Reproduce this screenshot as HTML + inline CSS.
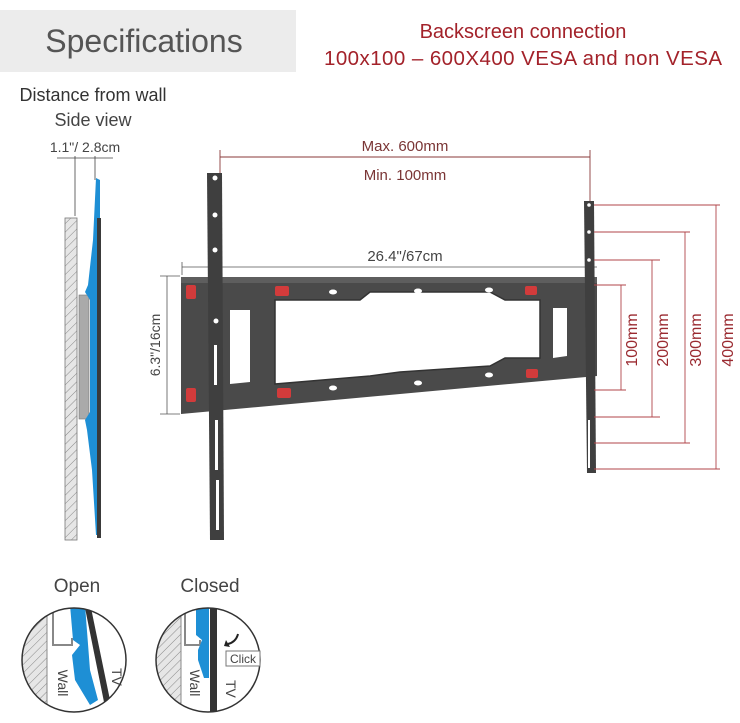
<!DOCTYPE html>
<html><head><meta charset="utf-8"><style>
html,body{margin:0;padding:0;background:#fff;}
svg{display:block;font-family:"Liberation Sans","DejaVu Sans",sans-serif;}
</style></head><body>
<svg width="740" height="723" viewBox="0 0 740 723" xmlns="http://www.w3.org/2000/svg">
<defs>
<pattern id="hatch" width="6" height="6" patternUnits="userSpaceOnUse" patternTransform="rotate(-45)">
<rect width="6" height="6" fill="#e6e6e6"/><line x1="0" y1="0" x2="6" y2="0" stroke="#888" stroke-width="1"/>
</pattern>
<clipPath id="c1"><circle cx="74" cy="660" r="52"/></clipPath>
<clipPath id="c2"><circle cx="208" cy="660" r="52"/></clipPath>
</defs>
<rect x="0" y="10" width="296" height="62" fill="#ececec"/>
<text x="144" y="52" font-size="32" fill="#555" text-anchor="middle">Specifications</text>
<text x="523" y="38" font-size="20" fill="#a3222a" text-anchor="middle">Backscreen connection</text>
<text x="523" y="65" font-size="20.5" fill="#a3222a" text-anchor="middle" textLength="398">100x100 – 600X400 VESA and non VESA</text>

<text x="93" y="101" font-size="18" fill="#333" text-anchor="middle">Distance from wall</text>
<text x="93" y="126" font-size="18" fill="#444" text-anchor="middle">Side view</text>
<text x="85" y="152" font-size="14" fill="#444" text-anchor="middle">1.1"/ 2.8cm</text>
<g stroke="#444" stroke-width="0.8"><line x1="57" y1="158" x2="113" y2="158"/><line x1="75" y1="156" x2="75" y2="216"/><line x1="95" y1="156" x2="95" y2="180"/></g>
<rect x="65" y="218" width="12" height="322" fill="url(#hatch)" stroke="#777" stroke-width="0.8"/>
<rect x="79" y="295" width="10" height="124" fill="#aaa" stroke="#777" stroke-width="0.6"/>
<path d="M96,178 L100,180 L100,535 L96,535 L92,470 L87,430 L85,420 L90,412 L90,300 L85,292 L88,285 L93,240 Z" fill="#1e8fd5"/>
<rect x="97" y="218" width="4" height="320" fill="#3a3a3a"/>

<g stroke="#8a3a3a" stroke-width="0.9">
<line x1="220" y1="157" x2="590" y2="157"/><line x1="220" y1="150" x2="220" y2="178"/><line x1="590" y1="150" x2="590" y2="202"/>
</g>
<text x="405" y="151" font-size="15" fill="#7a3535" text-anchor="middle">Max. 600mm</text>
<text x="405" y="180" font-size="15" fill="#7a3535" text-anchor="middle">Min. 100mm</text>

<text x="405" y="261" font-size="15" fill="#444" text-anchor="middle">26.4"/67cm</text>
<line x1="182" y1="267" x2="597" y2="267" stroke="#555" stroke-width="0.8"/>
<line x1="182" y1="262" x2="182" y2="275" stroke="#555" stroke-width="0.8"/>
<line x1="167" y1="276" x2="167" y2="414" stroke="#555" stroke-width="0.8"/>
<line x1="160" y1="276" x2="180" y2="276" stroke="#555" stroke-width="0.8"/>
<line x1="160" y1="414" x2="180" y2="414" stroke="#555" stroke-width="0.8"/>
<text transform="translate(160,345) rotate(-90)" font-size="14" fill="#444" text-anchor="middle">6.3"/16cm</text>

<path d="M181,277 L597,277 L597,376 L181,414 Z" fill="#4a4a4a"/>
<path d="M181,277 L597,277 L597,283 L181,283 Z" fill="#5e5e5e"/>
<path d="M275,300 L360,300 L370,292 L490,292 L505,300 L540,300 L540,358 L505,358 L490,366 L400,372 L370,376 L275,384 Z" fill="#fff" stroke="#333" stroke-width="1.5"/>
<path d="M230,310 L250,310 L250,382 L230,384 Z" fill="#fff"/>
<path d="M553,308 L567,308 L567,356 L553,358 Z" fill="#fff"/>
<g fill="#d23b3b"><rect x="275" y="286" width="14" height="10" rx="2"/><rect x="525" y="286" width="12" height="9" rx="2"/><rect x="277" y="388" width="14" height="10" rx="2"/><rect x="526" y="369" width="12" height="9" rx="2"/><rect x="186" y="285" width="10" height="14" rx="2"/><rect x="186" y="388" width="10" height="14" rx="2"/></g>
<g fill="#fff"><ellipse cx="333" cy="292" rx="4" ry="2.5"/><ellipse cx="418" cy="291" rx="4" ry="2.5"/><ellipse cx="489" cy="290" rx="4" ry="2.5"/><ellipse cx="333" cy="388" rx="4" ry="2.5"/><ellipse cx="418" cy="383" rx="4" ry="2.5"/><ellipse cx="489" cy="375" rx="4" ry="2.5"/></g>
<path d="M207,173 L222,173 L224,540 L210,540 Z" fill="#3f3f3f"/>
<g fill="#fff"><circle cx="215" cy="178" r="2.5"/><circle cx="215" cy="215" r="2.5"/><circle cx="215" cy="250" r="2.5"/><circle cx="216" cy="321" r="2.5"/><rect x="214" y="345" width="3" height="40"/><rect x="215" y="420" width="3" height="50"/><rect x="216" y="480" width="3" height="50"/></g>
<path d="M584,201 L594,201 L596,473 L587,473 Z" fill="#3f3f3f"/>
<g fill="#fff"><circle cx="589" cy="205" r="1.8"/><circle cx="589" cy="232" r="1.8"/><circle cx="589" cy="260" r="1.8"/><rect x="588" y="420" width="2" height="48"/></g>

<g stroke="#b0454a" stroke-width="0.9" fill="none">
<line x1="594" y1="205" x2="720" y2="205"/><line x1="716" y1="205" x2="716" y2="469"/><line x1="594" y1="469" x2="720" y2="469"/>
<line x1="594" y1="232" x2="690" y2="232"/><line x1="685" y1="232" x2="685" y2="443"/><line x1="594" y1="443" x2="690" y2="443"/>
<line x1="594" y1="260" x2="660" y2="260"/><line x1="652" y1="260" x2="652" y2="417"/><line x1="594" y1="417" x2="660" y2="417"/>
<line x1="594" y1="285" x2="626" y2="285"/><line x1="621" y1="285" x2="621" y2="390"/><line x1="594" y1="390" x2="626" y2="390"/>
</g>
<g font-size="16" fill="#9a2a30" text-anchor="middle">
<text transform="translate(637,340) rotate(-90)">100mm</text>
<text transform="translate(668,340) rotate(-90)">200mm</text>
<text transform="translate(701,340) rotate(-90)">300mm</text>
<text transform="translate(733,340) rotate(-90)">400mm</text>
</g>

<text x="77" y="592" font-size="19" fill="#444" text-anchor="middle">Open</text>
<text x="210" y="592" font-size="19" fill="#444" text-anchor="middle">Closed</text>
<g clip-path="url(#c1)">
<rect x="20" y="600" width="27" height="130" fill="url(#hatch)" stroke="#888"/>
<path d="M53,612 L53,645 L72,645 L72,638" fill="none" stroke="#888" stroke-width="2"/>
<path d="M70,605 L85,605 L90,670 L98,700 L90,705 L75,680 L72,655 L80,645 L73,640 Z" fill="#1e8fd5"/>
<path d="M84,603 L90,603 L110,700 L104,702 Z" fill="#333"/>
</g>
<circle cx="74" cy="660" r="52" fill="none" stroke="#333" stroke-width="1.5"/>
<text transform="translate(58,683) rotate(90)" font-size="14" fill="#444" text-anchor="middle">Wall</text>
<text transform="translate(112,668) rotate(90)" font-size="14" fill="#444">TV</text>
<g clip-path="url(#c2)">
<rect x="154" y="600" width="27" height="130" fill="url(#hatch)" stroke="#888"/>
<path d="M185,612 L185,645 L200,645 L200,640" fill="none" stroke="#888" stroke-width="2"/>
<path d="M196,603 L209,603 L209,678 L204,678 L198,660 L198,650 L202,640 L196,635 Z" fill="#1e8fd5"/>
<rect x="210" y="603" width="7" height="110" fill="#333"/>
</g>
<circle cx="208" cy="660" r="52" fill="none" stroke="#333" stroke-width="1.5"/>
<path d="M238,634 Q236,642 228,644" fill="none" stroke="#222" stroke-width="2"/>
<path d="M226,640 L224,646 L230,647 Z" fill="#222"/>
<rect x="226" y="651" width="34" height="15" fill="#fff" stroke="#777"/>
<text x="243" y="663" font-size="12" fill="#444" text-anchor="middle">Click</text>
<text transform="translate(190,683) rotate(90)" font-size="14" fill="#444" text-anchor="middle">Wall</text>
<text transform="translate(226,680) rotate(90)" font-size="14" fill="#444">TV</text>
</svg>
</body></html>
